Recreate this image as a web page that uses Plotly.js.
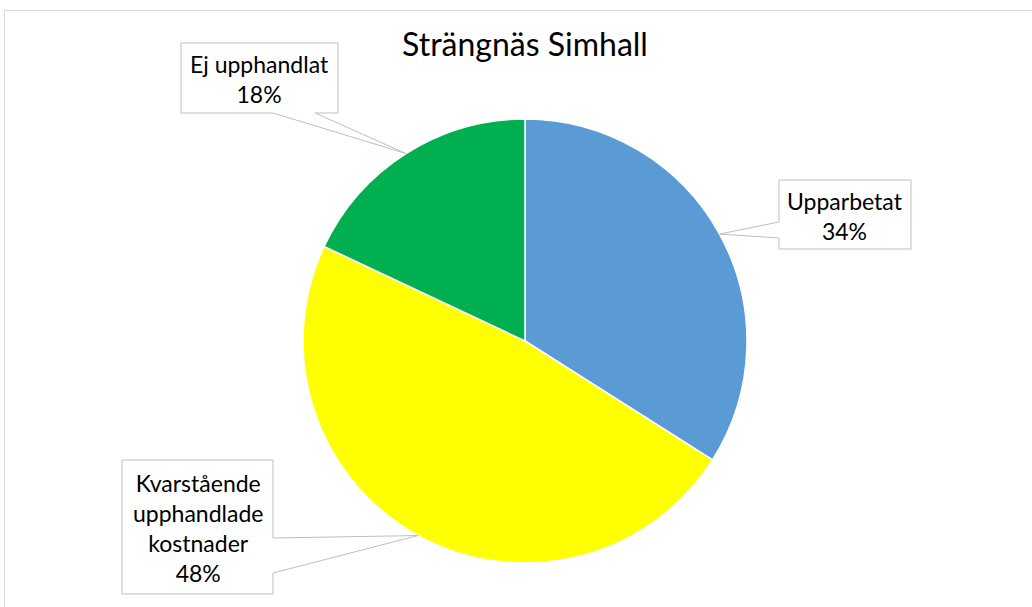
<!DOCTYPE html>
<html><head><meta charset="utf-8">
<script src="https://cdn.plot.ly/plotly-3.0.1.min.js"></script>
<style>html,body{margin:0;padding:0;background:#fff}#chart{width:1032px;height:607px}</style>
</head><body><div id="chart"></div>
<script>
const chartTitle = "Strängnäs Simhall";
const categories = ["Upparbetat", "Kvarstående upphandlade kostnader", "Ej upphandlat"];
const labelLines = [["Upparbetat"], ["Kvarstående", "upphandlade", "kostnader"], ["Ej upphandlat"]];
const values = [34, 48, 18];
const colors = ["#5B9BD5", "#FFFF00", "#00B050"];

const W = 1032, H = 607;
const cx = 525, cy = 341, R = 222;
const px = x => x / W, py = y => 1 - y / H;

// label box layout: [left, top, right, bottom], and which side the pointer attaches
const boxes = [
  {b: [779, 180, 911, 249], side: "left", a: [222, 238]},
  {b: [122, 460, 273, 594], side: "right", a: [538, 573]},
  {b: [181, 43, 338, 113], side: "bottom", a: [273, 315]}
];

const total = values.reduce((s, v) => s + v, 0);
let cum = 0;
const shapes = [{type: "rect", xref: "paper", yref: "paper", x0: px(4.5), x1: px(1040), y0: py(620), y1: py(10.5),
  line: {color: "#D9D9D9", width: 1}, fillcolor: "rgba(0,0,0,0)", layer: "below"}];
const annotations = [];
values.forEach((v, i) => {
  const mid = (cum + v / 2) / total * 2 * Math.PI;
  cum += v;
  const tx = cx + R * Math.sin(mid), ty = cy - R * Math.cos(mid);
  const [l, t, r, b] = boxes[i].b;
  const [a1, a2] = boxes[i].a;
  let pts;
  if (boxes[i].side === "left") pts = [[l, t], [r, t], [r, b], [l, b], [l, a2], [tx, ty], [l, a1]];
  else if (boxes[i].side === "right") pts = [[l, t], [r, t], [r, a1], [tx, ty], [r, a2], [r, b], [l, b]];
  else pts = [[l, t], [r, t], [r, b], [a2, b], [tx, ty], [a1, b], [l, b]];
  const path = "M" + pts.map(p => px(p[0]).toFixed(5) + "," + py(p[1]).toFixed(5)).join(" L") + " Z";
  shapes.push({type: "path", xref: "paper", yref: "paper", path: path, fillcolor: "#FFFFFF",
    line: {color: "#BFBFBF", width: 1}});
  const pct = Math.round(v / total * 100) + "%";
  annotations.push({xref: "paper", yref: "paper", x: px((l + r) / 2), y: py((t + b) / 2 + 1),
    xanchor: "center", yanchor: "middle", showarrow: false,
    text: labelLines[i].concat([pct]).join("<br>"),
    font: {family: "Lato, 'Open Sans', sans-serif", size: 23, color: "#000"}});
});

const data = [{
  type: "pie", labels: categories, values: values, sort: false, direction: "clockwise", rotation: 0,
  marker: {colors: colors, line: {color: "#FFFFFF", width: 1.5}},
  textinfo: "none", hoverinfo: "none", showlegend: false,
  domain: {x: [px(cx - R), px(cx + R)], y: [py(cy + R), py(cy - R)]}
}];

const layout = {
  width: W, height: H, margin: {l: 0, r: 0, t: 0, b: 0},
  paper_bgcolor: "#FFFFFF",
  title: {text: chartTitle, x: px(cx), xanchor: "center", y: py(45), yanchor: "middle",
    font: {family: "Lato, 'Open Sans', sans-serif", size: 32, color: "#000"}},
  shapes: shapes, annotations: annotations, showlegend: false
};
Plotly.newPlot("chart", data, layout, {displayModeBar: false, staticPlot: true});
</script></body></html>
